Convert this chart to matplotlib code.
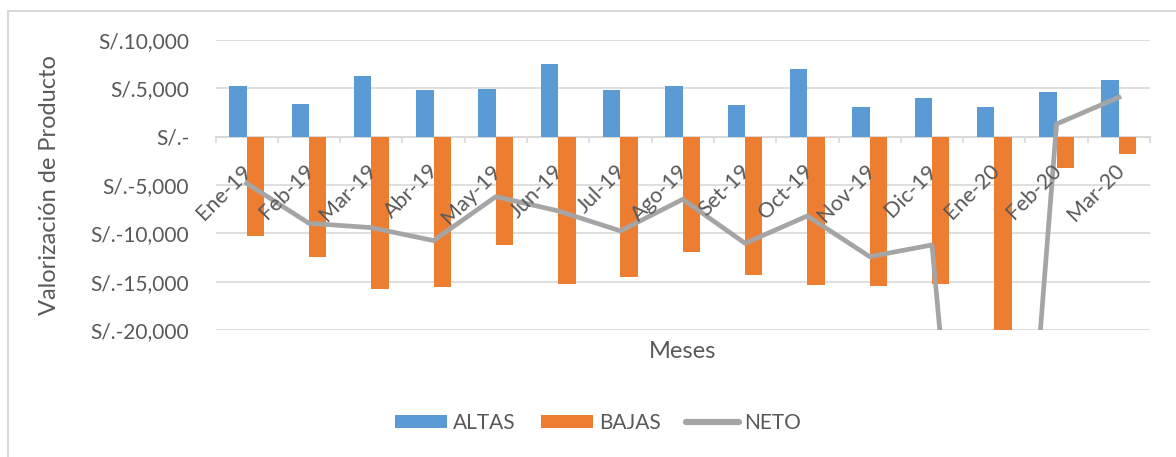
import numpy as np
import matplotlib
matplotlib.use("Agg")
import matplotlib.pyplot as plt
from matplotlib.patches import Rectangle
from matplotlib.transforms import ScaledTranslation

plt.rcParams['font.family'] = ['Lato', 'DejaVu Sans']

meses = ['Ene-19', 'Feb-19', 'Mar-19', 'Abr-19', 'May-19', 'Jun-19', 'Jul-19', 'Ago-19',
         'Set-19', 'Oct-19', 'Nov-19', 'Dic-19', 'Ene-20', 'Feb-20', 'Mar-20']
altas = [5240, 3410, 6280, 4830, 4970, 7520, 4830, 5280, 3250, 6970, 3040, 3970, 3100, 4590, 5830]
bajas = [-10240, -12410, -15750, -15570, -11230, -15200, -14540, -11920, -14270, -15300,
         -15470, -15200, -84100, -3270, -1820]
neto = [-4820, -8960, -9410, -10750, -6200, -7680, -9750, -6480, -11030, -8200,
        -12410, -11200, -81000, 1310, 4070]
yticks = [10000, 5000, 0, -5000, -10000, -15000, -20000]
ylabels = ['S/.10,000', 'S/.5,000', 'S/.-', 'S/.-5,000', 'S/.-10,000', 'S/.-15,000', 'S/.-20,000']

c_txt = '#595959'
c_grid = '#D9D9D9'

fig = plt.figure(figsize=(11.76, 4.57), dpi=100)
W, H = 1176, 457
ax = fig.add_axes([215.5 / W, 1 - 330 / H, (1150 - 215.5) / W, (330 - 40) / H])

x = np.arange(len(meses))
bw = 0.28
b1 = ax.bar(x - bw / 2, altas, bw, color='#5B9BD5', label='ALTAS', zorder=2)
b2 = ax.bar(x + bw / 2, bajas, bw, color='#ED7D31', label='BAJAS', zorder=2)
l1, = ax.plot(x, neto, color='#A5A5A5', lw=3.4, label='NETO', zorder=3)

ax.set_xlim(-0.5, len(meses) - 0.5)
ax.set_ylim(-20000, 10000)
ax.set_yticks(yticks)
ax.set_yticklabels(ylabels)
ax.tick_params(axis='y', length=0, pad=19, labelsize=15, labelcolor=c_txt)
ax.grid(axis='y', color=c_grid, lw=1.2, zorder=0)
ax.set_axisbelow(True)

for s in ['top', 'right', 'left']:
    ax.spines[s].set_visible(False)
ax.spines['bottom'].set_position(('data', 0))
ax.spines['bottom'].set_color(c_grid)
ax.spines['bottom'].set_linewidth(1.5)
ax.spines['bottom'].set_zorder(1)

# tick marks at category boundaries, labels drawn as rotated text under the zero line
ax.set_xticks(np.arange(len(meses) + 1) - 0.5)
ax.set_xticklabels([])
ax.tick_params(axis='x', which='major', direction='out', length=4.5, color=c_grid, width=1.2)
off = ScaledTranslation(2 / 100, -31 / 100, fig.dpi_scale_trans)
for i, m in enumerate(meses):
    ax.text(i, 0, m, rotation=45, ha='right', va='center', rotation_mode='anchor',
            fontsize=15.5, color=c_txt, transform=ax.transData + off, zorder=4)

ax.set_ylabel('Valorización de Producto', fontsize=17, color=c_txt)
ax.yaxis.set_label_coords((60 - 215.5) / (1150 - 215.5), 0.5)
fig.text(683 / W, 1 - 352 / H, 'Meses', fontsize=17, color=c_txt, ha='center', va='center')

leg = fig.legend(handles=[b1, b2, l1], loc='center', bbox_to_anchor=(598 / W, 1 - 423 / H),
                 ncol=3, frameon=False, fontsize=15, labelcolor=c_txt, handlelength=2.5,
                 handleheight=0.62, handletextpad=0.25, columnspacing=1.25)
leg.legend_handles[2].set_linewidth(4.5)
leg.legend_handles[2].set_solid_capstyle('round')

fig.patches.append(Rectangle((7.5 / W, -0.1), 1.2, 1.1 - 11 / H, transform=fig.transFigure,
                             fill=False, edgecolor=c_grid, lw=1.5))

fig.savefig('out.png', dpi=100)
